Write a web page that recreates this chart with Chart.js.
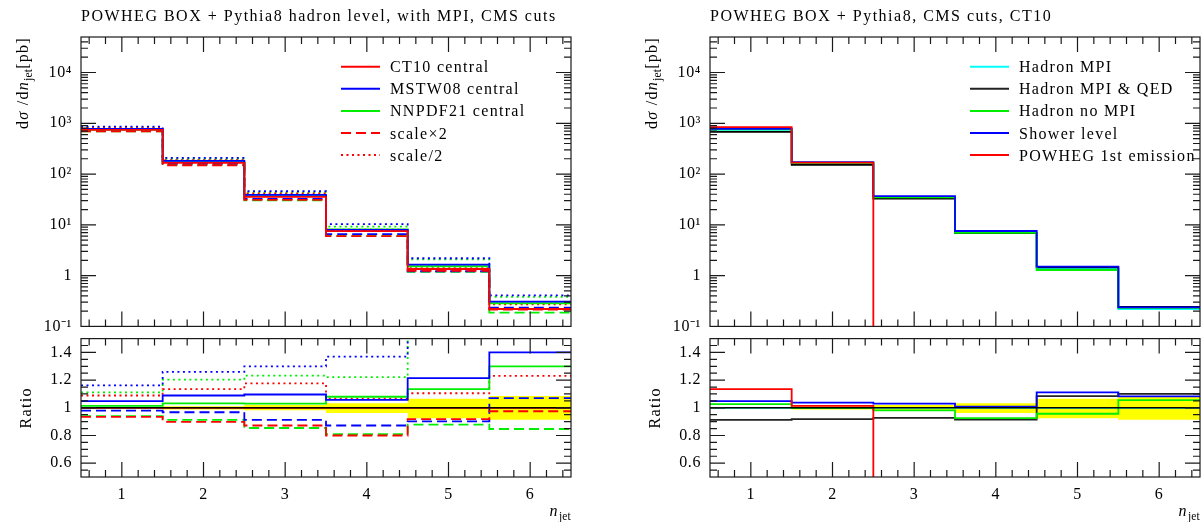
<!DOCTYPE html>
<html><head><meta charset="utf-8">
<script src="https://cdn.jsdelivr.net/npm/chart.js@4.4.0/dist/chart.umd.min.js"></script>
<style>
html,body{margin:0;padding:0;background:#fff;overflow:hidden;width:1201px;height:522px;position:relative;}
canvas{position:absolute;}
</style></head><body>
<canvas id="lm" width="600" height="345" style="left:0;top:0"></canvas>
<canvas id="lr" width="600" height="202" style="left:0;top:320px"></canvas>
<canvas id="rm" width="600" height="345" style="left:629px;top:0"></canvas>
<canvas id="rr" width="600" height="202" style="left:629px;top:320px"></canvas>
<script>
// ---------------- data ----------------
const binEdges = [0.5, 1.5, 2.5, 3.5, 4.5, 5.5, 6.5];
const xTickValues = [1, 2, 3, 4, 5, 6];
const xTickLabels = ['1', '2', '3', '4', '5', '6'];
const yMainTickValues = [0.1, 1, 10, 100, 1000, 10000];
const yMainTickLabels = ['10\u207B\u00B9', '1', '10\u00B9', '10\u00B2', '10\u00B3', '10\u2074'];
const yRatioTickValues = [0.6, 0.8, 1, 1.2, 1.4];
const yRatioTickLabels = ['0.6', '0.8', '1', '1.2', '1.4'];

const leftTitle = 'POWHEG BOX + Pythia8 hadron level, with MPI, CMS cuts';
const rightTitle = 'POWHEG BOX + Pythia8, CMS cuts, CT10';

// left panel, main (pb)
const ct10Central      = [740, 166, 35.5, 7.5, 1.35, 0.22];
const mstw08Central    = [776, 181, 38.9, 7.93, 1.64, 0.308];
const nnpdf21Central   = [750, 171, 36.6, 8.1, 1.53, 0.286];
const ct10ScaleX2      = [691, 149, 31.0, 6.0, 1.24, 0.215];
const mstw08ScaleX2    = [724, 161, 32.4, 6.54, 1.22, 0.235];
const nnpdf21ScaleX2   = [696, 152, 30.3, 6.08, 1.19, 0.186];
const ct10ScaleHalf    = [806, 188, 41.7, 8.0, 1.49, 0.271];
const mstw08ScaleHalf  = [860, 209, 46.2, 10.3, 2.2, 0.41];
const nnpdf21ScaleHalf = [823, 200, 43.8, 9.2, 2.09, 0.38];

// left panel, ratio
const ct10CentralR      = [1, 1, 1, 1, 1, 1];
const mstw08CentralR    = [1.048, 1.089, 1.096, 1.057, 1.215, 1.40];
const nnpdf21CentralR   = [1.014, 1.032, 1.03, 1.08, 1.135, 1.30];
const ct10ScaleX2R      = [0.934, 0.899, 0.872, 0.80, 0.918, 0.975];
const mstw08ScaleX2R    = [0.979, 0.968, 0.913, 0.872, 0.902, 1.07];
const nnpdf21ScaleX2R   = [0.94, 0.913, 0.854, 0.81, 0.879, 0.847];
const ct10ScaleHalfR    = [1.089, 1.135, 1.176, 1.066, 1.105, 1.231];
const mstw08ScaleHalfR  = [1.162, 1.26, 1.30, 1.37, 1.63, 1.86];
const nnpdf21ScaleHalfR = [1.112, 1.203, 1.233, 1.222, 1.55, 1.73];

// statistical band of the reference
const statUp   = [1.005, 1.012, 1.02, 1.033, 1.066, 1.085];
const statDown = [0.995, 0.988, 0.982, 0.962, 0.924, 0.913];
const refLine  = [1, 1, 1, 1, 1, 1];

// right panel, main (pb)
const hadronMPI     = [740, 166, 35.5, 7.5, 1.35, 0.22];
const hadronMPIQED  = [676, 152, 32.9, 6.86, 1.46, 0.242];
const hadronNoMPI   = [760, 166, 34.9, 6.94, 1.29, 0.232];
const showerLevel   = [776, 172, 36.6, 7.57, 1.50, 0.238];
const powheg1st     = [840, 168, 0.001, 0.001, 0.001, 0.001];

// right panel, ratio
const hadronMPIR    = [1, 1, 1, 1, 1, 1];
const hadronMPIQEDR = [0.913, 0.918, 0.927, 0.915, 1.085, 1.10];
const hadronNoMPIR  = [1.027, 0.998, 0.982, 0.925, 0.957, 1.055];
const showerLevelR  = [1.048, 1.037, 1.03, 1.009, 1.112, 1.082];
const powheg1stR    = [1.135, 1.014, 0, 0, 0, 0];

// ---------------- styling ----------------
const FONT = "'Liberation Serif', 'Times New Roman', serif";
Chart.defaults.font.family = FONT;
Chart.defaults.font.size = 16;
Chart.defaults.color = '#000';

const RED = '#ff0000', BLUE = '#0000ff', GREEN = '#00ee00', CYAN = '#00ffff', BLACK = '#000000';
const DASH = [10, 5], DOT = [2, 3.5];
const TXT = '16px ' + FONT, TXT_I = 'italic 16px ' + FONT, SUB = '11.5px ' + FONT;
const SPACING = '1.3px', SUB_SPACING = '0.2px', TITLE_SPACING = '1.5px';

function steps(values) {
  const pts = values.map((v, i) => ({x: binEdges[i], y: v}));
  pts.push({x: binEdges[binEdges.length - 1], y: values[values.length - 1]});
  return pts;
}
function line(label, values, color, dash, width) {
  return {label, data: steps(values), borderColor: color, backgroundColor: color,
    borderWidth: width || 1.8, borderDash: dash || [], stepped: 'before',
    pointRadius: 0, fill: false, tension: 0};
}
function band() {
  return [
    {label: 'stat-', data: steps(statDown), borderWidth: 0, borderColor: 'rgba(0,0,0,0)',
     pointRadius: 0, stepped: 'before', fill: false},
    {label: 'stat+', data: steps(statUp), borderWidth: 0, borderColor: 'rgba(0,0,0,0)',
     pointRadius: 0, stepped: 'before', fill: '-1', backgroundColor: '#ffff00'}
  ];
}

function richWidth(ctx, parts) {
  let w = 0;
  for (const p of parts) {
    ctx.font = p.font; ctx.letterSpacing = p.ls || SPACING;
    w += ctx.measureText(p.t).width;
  }
  return w;
}
function drawRich(ctx, parts, x, y) {
  for (const p of parts) {
    ctx.font = p.font; ctx.letterSpacing = p.ls || SPACING;
    ctx.fillText(p.t, x, y + (p.dy || 0));
    x += ctx.measureText(p.t).width;
  }
}

const deco = {
  id: 'deco',
  beforeDraw(chart) {
    chart.ctx.letterSpacing = '0.6px';
  },
  afterDatasetsDraw(chart, args, o) {
    const ctx = chart.ctx, a = chart.chartArea, xs = chart.scales.x, ys = chart.scales.y;
    ctx.save();
    ctx.strokeStyle = '#1a1a1a';
    ctx.lineWidth = 1.2;
    ctx.beginPath();
    for (let k = 3; k <= 32; k++) {
      const v = k / 5;
      if (v <= 0.5 || v >= 6.5) continue;
      const px = xs.getPixelForValue(v);
      const L = (k % 5 === 0) ? 15 : 7;
      ctx.moveTo(px, a.top); ctx.lineTo(px, a.top + L);
      ctx.moveTo(px, a.bottom); ctx.lineTo(px, a.bottom - L);
    }
    if (o.log) {
      for (let d = -1; d <= 4; d++) for (let m = 1; m <= 9; m++) {
        const v = m * Math.pow(10, d);
        if (v <= ys.min * 1.0001 || v >= ys.max) continue;
        const py = ys.getPixelForValue(v);
        const L = m === 1 ? 15 : 7;
        ctx.moveTo(a.left, py); ctx.lineTo(a.left + L, py);
        ctx.moveTo(a.right, py); ctx.lineTo(a.right - L, py);
      }
    } else {
      for (let k = 11; k <= 29; k++) {
        const v = k * 0.05;
        const py = ys.getPixelForValue(v);
        const L = k % 4 === 0 ? 15 : 7;
        ctx.moveTo(a.left, py); ctx.lineTo(a.left + L, py);
        ctx.moveTo(a.right, py); ctx.lineTo(a.right - L, py);
      }
    }
    ctx.stroke();
    ctx.strokeRect(a.left, a.top, a.right - a.left, a.bottom - a.top);
    ctx.restore();
  },
  afterDraw(chart, args, o) {
    const ctx = chart.ctx, a = chart.chartArea;
    ctx.save();
    ctx.fillStyle = '#000';
    ctx.textAlign = 'left';
    ctx.textBaseline = 'alphabetic';
    if (o.title) {
      ctx.letterSpacing = TITLE_SPACING;
      ctx.font = TXT;
      ctx.fillText(o.title, a.left, 21);
    }
    if (o.legend) {
      o.legend.forEach((it, i) => {
        const y = 66.7 + i * 22.1;
        ctx.save();
        ctx.strokeStyle = it.color; ctx.lineWidth = 2;
        ctx.setLineDash(it.dash || []);
        ctx.beginPath(); ctx.moveTo(a.left + 260, y); ctx.lineTo(a.left + 299, y); ctx.stroke();
        ctx.restore();
        ctx.letterSpacing = SPACING;
        ctx.font = TXT;
        ctx.fillText(it.label, a.left + 309, y + 5.5);
      });
    }
    if (o.yTitleMain) {
      const parts = [
        {t: 'd', font: TXT},
        {t: '\u03C3', font: TXT_I},
        {t: ' /d', font: TXT},
        {t: 'n', font: TXT_I},
        {t: 'jet', font: SUB, dy: 4, ls: SUB_SPACING},
        {t: '[pb]', font: TXT}
      ];
      const w = richWidth(ctx, parts);
      ctx.translate(a.left - 53, a.top + w);
      ctx.rotate(-Math.PI / 2);
      drawRich(ctx, parts, 0, 0);
    }
    if (o.yTitleRatio) {
      const parts = [{t: 'Ratio', font: TXT}];
      const w = richWidth(ctx, parts);
      ctx.translate(a.left - 50, (a.top + a.bottom) / 2 + w / 2);
      ctx.rotate(-Math.PI / 2);
      drawRich(ctx, parts, 0, 0);
    }
    ctx.restore();
    if (o.xTitle) {
      ctx.save();
      ctx.fillStyle = '#000';
      const parts = [
        {t: 'n', font: TXT_I},
        {t: 'jet', font: SUB, dy: 4, ls: SUB_SPACING}
      ];
      const w = richWidth(ctx, parts);
      drawRich(ctx, parts, a.right - w, 196);
      ctx.restore();
    }
  }
};

function xScale(show) {
  return {
    type: 'linear', min: 0.5, max: 6.5, display: show,
    grid: {display: false, drawTicks: false}, border: {display: false},
    afterBuildTicks: s => { s.ticks = xTickValues.map(v => ({value: v})); },
    ticks: {
      callback: v => { const i = xTickValues.indexOf(v); return i >= 0 ? xTickLabels[i] : ''; },
      padding: 8, maxRotation: 0, autoSkip: false, font: {size: 16}
    },
    afterFit: s => { s.height = show ? 45 : 0; }
  };
}
function yMainScale() {
  return {
    type: 'logarithmic', min: 0.1, max: 5e4,
    grid: {display: false, drawTicks: false}, border: {display: false},
    afterBuildTicks: s => { s.ticks = yMainTickValues.map(v => ({value: v})); },
    ticks: {
      callback: v => {
        const i = yMainTickValues.findIndex(t => Math.abs(t - v) / t < 1e-6);
        return i >= 0 ? yMainTickLabels[i] : '';
      },
      padding: 9, autoSkip: false, font: {size: 16}
    },
    afterFit: s => { s.width = 81; }
  };
}
function yRatioScale() {
  return {
    type: 'linear', min: 0.5, max: 1.5,
    grid: {display: false, drawTicks: false}, border: {display: false},
    afterBuildTicks: s => { s.ticks = yRatioTickValues.map(v => ({value: v})); },
    ticks: {
      callback: v => {
        const i = yRatioTickValues.findIndex(t => Math.abs(t - v) < 1e-6);
        return i >= 0 ? yRatioTickLabels[i] : '';
      },
      padding: 9, autoSkip: false, font: {size: 16}
    },
    afterFit: s => { s.width = 81; }
  };
}

function makeChart(id, datasets, isMain, decoOpts) {
  return new Chart(document.getElementById(id), {
    type: 'line',
    data: {datasets},
    options: {
      responsive: false, animation: false, events: [],
      layout: {padding: isMain ? {left: 0, right: 29, top: 37, bottom: 15}
                               : {left: 0, right: 29, top: 10, bottom: 0}},
      scales: {x: xScale(!isMain), y: isMain ? yMainScale() : yRatioScale()},
      plugins: {legend: {display: false}, title: {display: false}, tooltip: {enabled: false},
                deco: decoOpts}
    },
    plugins: [deco]
  });
}

// ---------------- left panel ----------------
makeChart('lm', [
  line('CT10 central', ct10Central, RED),
  line('MSTW08 central', mstw08Central, BLUE),
  line('NNPDF21 central', nnpdf21Central, GREEN),
  line('scale\u00D72', ct10ScaleX2, RED, DASH),
  line('MSTW08 scale\u00D72', mstw08ScaleX2, BLUE, DASH),
  line('NNPDF21 scale\u00D72', nnpdf21ScaleX2, GREEN, DASH),
  line('scale/2', ct10ScaleHalf, RED, DOT),
  line('MSTW08 scale/2', mstw08ScaleHalf, BLUE, DOT),
  line('NNPDF21 scale/2', nnpdf21ScaleHalf, GREEN, DOT)
], true, {
  log: true, title: leftTitle, yTitleMain: true,
  legend: [
    {label: 'CT10 central', color: RED},
    {label: 'MSTW08 central', color: BLUE},
    {label: 'NNPDF21 central', color: GREEN},
    {label: 'scale\u00D72', color: RED, dash: DASH},
    {label: 'scale/2', color: RED, dash: DOT}
  ]
});

makeChart('lr', [
  line('reference', refLine, BLACK, [], 1.4),
  line('CT10 central', ct10CentralR, RED),
  line('MSTW08 central', mstw08CentralR, BLUE),
  line('NNPDF21 central', nnpdf21CentralR, GREEN),
  line('scale\u00D72', ct10ScaleX2R, RED, DASH),
  line('MSTW08 scale\u00D72', mstw08ScaleX2R, BLUE, DASH),
  line('NNPDF21 scale\u00D72', nnpdf21ScaleX2R, GREEN, DASH),
  line('scale/2', ct10ScaleHalfR, RED, DOT),
  line('MSTW08 scale/2', mstw08ScaleHalfR, BLUE, DOT),
  line('NNPDF21 scale/2', nnpdf21ScaleHalfR, GREEN, DOT),
  ...band()
], false, {log: false, yTitleRatio: true, xTitle: true});

// ---------------- right panel ----------------
makeChart('rm', [
  line('POWHEG 1st emission', powheg1st, RED),
  line('Shower level', showerLevel, BLUE),
  line('Hadron no MPI', hadronNoMPI, GREEN),
  line('Hadron MPI & QED', hadronMPIQED, BLACK),
  line('Hadron MPI', hadronMPI, CYAN)
], true, {
  log: true, title: rightTitle, yTitleMain: true,
  legend: [
    {label: 'Hadron MPI', color: CYAN},
    {label: 'Hadron MPI & QED', color: '#222'},
    {label: 'Hadron no MPI', color: GREEN},
    {label: 'Shower level', color: BLUE},
    {label: 'POWHEG 1st emission', color: RED}
  ]
});

makeChart('rr', [
  line('reference', refLine, BLACK, [], 1.4),
  line('POWHEG 1st emission', powheg1stR, RED),
  line('Shower level', showerLevelR, BLUE),
  line('Hadron no MPI', hadronNoMPIR, GREEN),
  line('Hadron MPI & QED', hadronMPIQEDR, '#222'),
  line('Hadron MPI', hadronMPIR, CYAN),
  ...band()
], false, {log: false, yTitleRatio: true, xTitle: true});
</script>
</body></html>
